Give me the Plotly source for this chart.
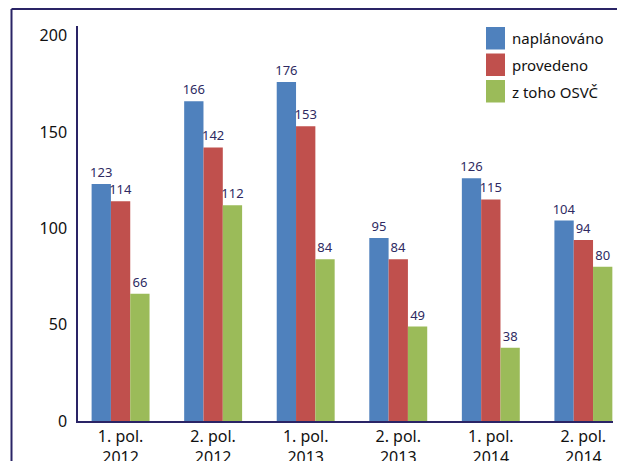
import plotly.graph_objects as go

categories = ["1. pol.<br>2012", "2. pol.<br>2012", "1. pol.<br>2013", "2. pol.<br>2013", "1. pol.<br>2014", "2. pol.<br>2014"]
naplanovano = [123, 166, 176, 95, 126, 104]
provedeno = [114, 142, 153, 84, 115, 94]
osvc = [66, 112, 84, 49, 38, 80]

series_names = ["naplánováno", "provedeno", "z toho OSVČ"]
series_values = [naplanovano, provedeno, osvc]
series_colors = ["#4F81BD", "#C0504D", "#9BBB59"]

NAVY = "#2a2466"
FONT = "Noto Sans"
W, H = 617, 461
L, R, T, B = 78, 4, 26, 40
PW, PH = W - L - R, H - T - B


def px_x(x):
    return (x - L) / PW


def px_y(y):
    return 1 - (y - T) / PH


fig = go.Figure()
for name, vals, col in zip(series_names, series_values, series_colors):
    fig.add_trace(go.Bar(
        x=list(range(len(categories))), y=vals, name=name,
        marker=dict(color=col, line=dict(width=0)),
        text=[str(v) for v in vals], textposition="outside",
        textfont=dict(family=FONT, size=13, color="#2e2a62"),
        constraintext="none", textangle=0,
        cliponaxis=False, showlegend=False,
    ))

shapes = [
    dict(type="line", xref="paper", yref="paper",
         x0=px_x(11.5), x1=px_x(617), y0=px_y(9), y1=px_y(9),
         line=dict(color=NAVY, width=2)),
    dict(type="line", xref="paper", yref="paper",
         x0=px_x(11.5), x1=px_x(11.5), y0=px_y(9), y1=px_y(470),
         line=dict(color=NAVY, width=2)),
]
annotations = []
for i, (name, col) in enumerate(zip(series_names, series_colors)):
    y0 = 27 + i * 26.5
    shapes.append(dict(type="rect", xref="paper", yref="paper",
                       x0=px_x(486), x1=px_x(505), y0=px_y(y0), y1=px_y(y0 + 22.5),
                       fillcolor=col, line=dict(width=0)))
    annotations.append(dict(xref="paper", yref="paper", x=px_x(510), y=px_y(y0 + 11.5),
                            xanchor="left", yanchor="middle", text=name, showarrow=False,
                            font=dict(family=FONT, size=15, color="#111111")))

fig.update_layout(
    width=W, height=H,
    margin=dict(l=L, r=R, t=T, b=B),
    paper_bgcolor="white", plot_bgcolor="white",
    barmode="group", bargap=0.374, bargroupgap=0,
    font=dict(family=FONT, color="#111111"),
    showlegend=False,
    xaxis=dict(
        tickmode="array", tickvals=list(range(len(categories))), ticktext=categories,
        range=[-0.46, 5.32], showline=True, linecolor=NAVY, linewidth=2,
        showgrid=False, ticks="", tickfont=dict(family=FONT, size=16, color="#111111"),
        zeroline=False, automargin=False,
    ),
    yaxis=dict(
        range=[0, 205], tickvals=[0, 50, 100, 150, 200], showline=True,
        linecolor=NAVY, linewidth=1.5, showgrid=False, ticks="", zeroline=False,
        tickfont=dict(family=FONT, size=16, color="#111111"), ticklabelstandoff=6,
        automargin=False,
    ),
    shapes=shapes,
    annotations=annotations,
)

fig.write_html("out.html")
